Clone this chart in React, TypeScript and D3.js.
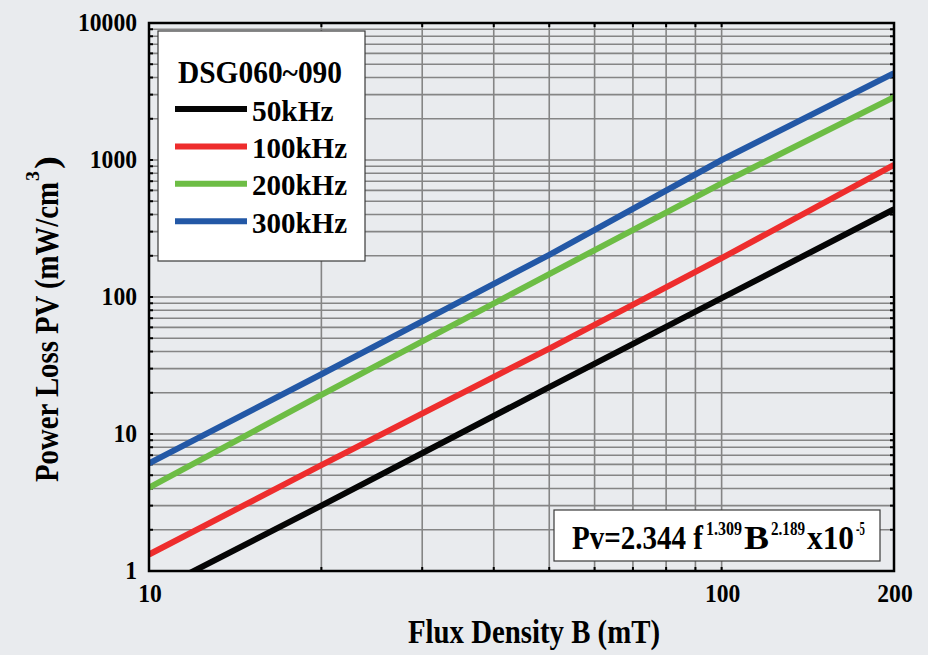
import React from "react";
import * as d3 from "d3";

// ---- data ----
const fluxB = [10, 20, 50, 100, 200];
const loss50k = [0.68, 3.0, 22, 98, 437];
const loss100k = [1.32, 5.92, 42, 192, 920];
const loss200k = [4.06, 19.3, 147, 676, 2870];
const loss300k = [6.1, 27.3, 203, 1000, 4300];
const seriesNames = ["50kHz", "100kHz", "200kHz", "300kHz"];
const seriesValues = [loss50k, loss100k, loss200k, loss300k];
const seriesColors = ["#050505", "#ee2d2d", "#6dbd45", "#2358a6"];
const yTickValues = [1, 10, 100, 1000, 10000];
const xTickValues = [10, 100, 200];
const legendTitle = "DSG060~090";

const W = 928;
const H = 655;
const M = { left: 149, right: 894, top: 23, bottom: 571 };
const FONT = "'Liberation Serif', 'Times New Roman', Times, serif";
const BG = "#e9ebee";

type TProps = {
  x: number;
  y: number;
  size: number;
  width?: number;
  anchor?: "start" | "middle" | "end";
  children: React.ReactNode;
};
function T({ x, y, size, width, anchor = "start", children }: TProps) {
  return (
    <text
      x={x}
      y={y}
      fontSize={size}
      fontFamily={FONT}
      fontWeight="bold"
      fill="#000"
      textAnchor={anchor}
      textLength={width}
      lengthAdjust={width ? "spacingAndGlyphs" : undefined}
    >
      {children}
    </text>
  );
}

type SProps = { x: number; y: number; size: number; width: number; children: React.ReactNode };
function S({ x, y, size, width, children }: SProps) {
  return (
    <tspan x={x} y={y} fontSize={size} textLength={width} lengthAdjust="spacingAndGlyphs">
      {children}
    </tspan>
  );
}

export default function App() {
  const x = d3.scaleLog().domain([10, 200]).range([M.left, M.right]);
  const y = d3.scaleLog().domain([1, 10000]).range([M.bottom, M.top]);

  // minor grid values
  const hGrid: number[] = [];
  for (let d = 1; d < 10000; d *= 10) {
    for (let k = 1; k <= 9; k++) hGrid.push(d * k);
  }
  hGrid.push(10000);
  const vGrid = d3.range(20, 101, 10);

  const line = d3
    .line<number>()
    .x((_, i) => x(fluxB[i]))
    .y((v) => y(v));

  const yLabelWidth = (s: string) => s.length * 11.8;

  return (
    <svg
      width={W}
      height={H}
      viewBox={`0 0 ${W} ${H}`}
      style={{ position: "absolute", left: 0, top: 0, display: "block" }}
    >
      <defs>
        <clipPath id="plotClip">
          <rect x={M.left} y={M.top} width={M.right - M.left} height={M.bottom - M.top} />
        </clipPath>
      </defs>
      <rect x={0} y={0} width={W} height={H} fill={BG} />

      {/* grid */}
      <g stroke="#858585" strokeWidth={1.6}>
        {hGrid.map((v) => (
          <line key={"h" + v} x1={M.left} x2={M.right} y1={y(v)} y2={y(v)} />
        ))}
        {vGrid.map((v) => (
          <line key={"v" + v} x1={x(v)} x2={x(v)} y1={M.top} y2={M.bottom} />
        ))}
      </g>

      {/* small ticks on frame */}
      <g stroke="#000" strokeWidth={2}>
        {hGrid.map((v) => (
          <g key={"t" + v}>
            <line x1={M.left} x2={M.left + 4} y1={y(v)} y2={y(v)} />
            <line x1={M.right - 4} x2={M.right} y1={y(v)} y2={y(v)} />
          </g>
        ))}
        {vGrid.map((v) => (
          <g key={"tv" + v}>
            <line x1={x(v)} x2={x(v)} y1={M.top} y2={M.top + 4} />
            <line x1={x(v)} x2={x(v)} y1={M.bottom - 4} y2={M.bottom} />
          </g>
        ))}
      </g>

      {/* series */}
      <g clipPath="url(#plotClip)" fill="none">
        {seriesValues.map((vals, i) => (
          <path key={seriesNames[i]} d={line(vals) || ""} stroke={seriesColors[i]} strokeWidth={6} />
        ))}
      </g>

      {/* frame */}
      <rect
        x={M.left}
        y={M.top}
        width={M.right - M.left}
        height={M.bottom - M.top}
        fill="none"
        stroke="#000"
        strokeWidth={2.5}
      />

      {/* y tick labels */}
      {yTickValues.map((v) => (
        <T key={"yl" + v} x={137} y={y(v) + 7.5} size={26} anchor="end" width={yLabelWidth(String(v))}>
          {String(v)}
        </T>
      ))}
      {/* x tick labels */}
      {xTickValues.map((v) => (
        <T key={"xl" + v} x={x(v) + 1} y={602} size={26} anchor="middle" width={String(v).length * 11.8}>
          {String(v)}
        </T>
      ))}

      {/* axis titles */}
      <T x={534} y={643} size={33} anchor="middle" width={252}>
        Flux Density B (mT)
      </T>
      <g transform="translate(58,482) rotate(-90)">
        <text fontFamily={FONT} fontWeight="bold" fill="#000">
          <S x={0} y={0} size={33} width={300}>Power Loss PV (mW/cm</S>
          <S x={301} y={-19} size={19} width={10}>3</S>
          <S x={313} y={0} size={33} width={13}>)</S>
        </text>
      </g>

      {/* legend */}
      <rect x={158} y={31} width={207} height={230} fill="#fff" stroke="#3a3a3a" strokeWidth={1.2} />
      <T x={178} y={83} size={32} width={164}>
        {legendTitle}
      </T>
      {seriesNames.map((name, i) => {
        const ly = 109 + i * 37.4;
        return (
          <g key={"lg" + name}>
            <line x1={175} x2={247} y1={ly} y2={ly} stroke={seriesColors[i]} strokeWidth={6} />
            <T x={252} y={ly + 11.5} size={30} width={i === 0 ? 81.6 : 95}>
              {name}
            </T>
          </g>
        );
      })}

      {/* formula box */}
      <rect x={554} y={510} width={326} height={51} fill="#fff" stroke="#3a3a3a" strokeWidth={1.2} />
      <text fontFamily={FONT} fontWeight="bold" fill="#000">
        <S x={572} y={549} size={34} width={131}>Pv=2.344 f</S>
        <S x={706} y={535} size={19} width={36}>1.309</S>
        <S x={744} y={549} size={34} width={25}>B</S>
        <S x={771} y={535} size={19} width={34}>2.189</S>
        <S x={807} y={549} size={34} width={47}>x10</S>
        <S x={856} y={535} size={19} width={9}>-5</S>
      </text>
    </svg>
  );
}
